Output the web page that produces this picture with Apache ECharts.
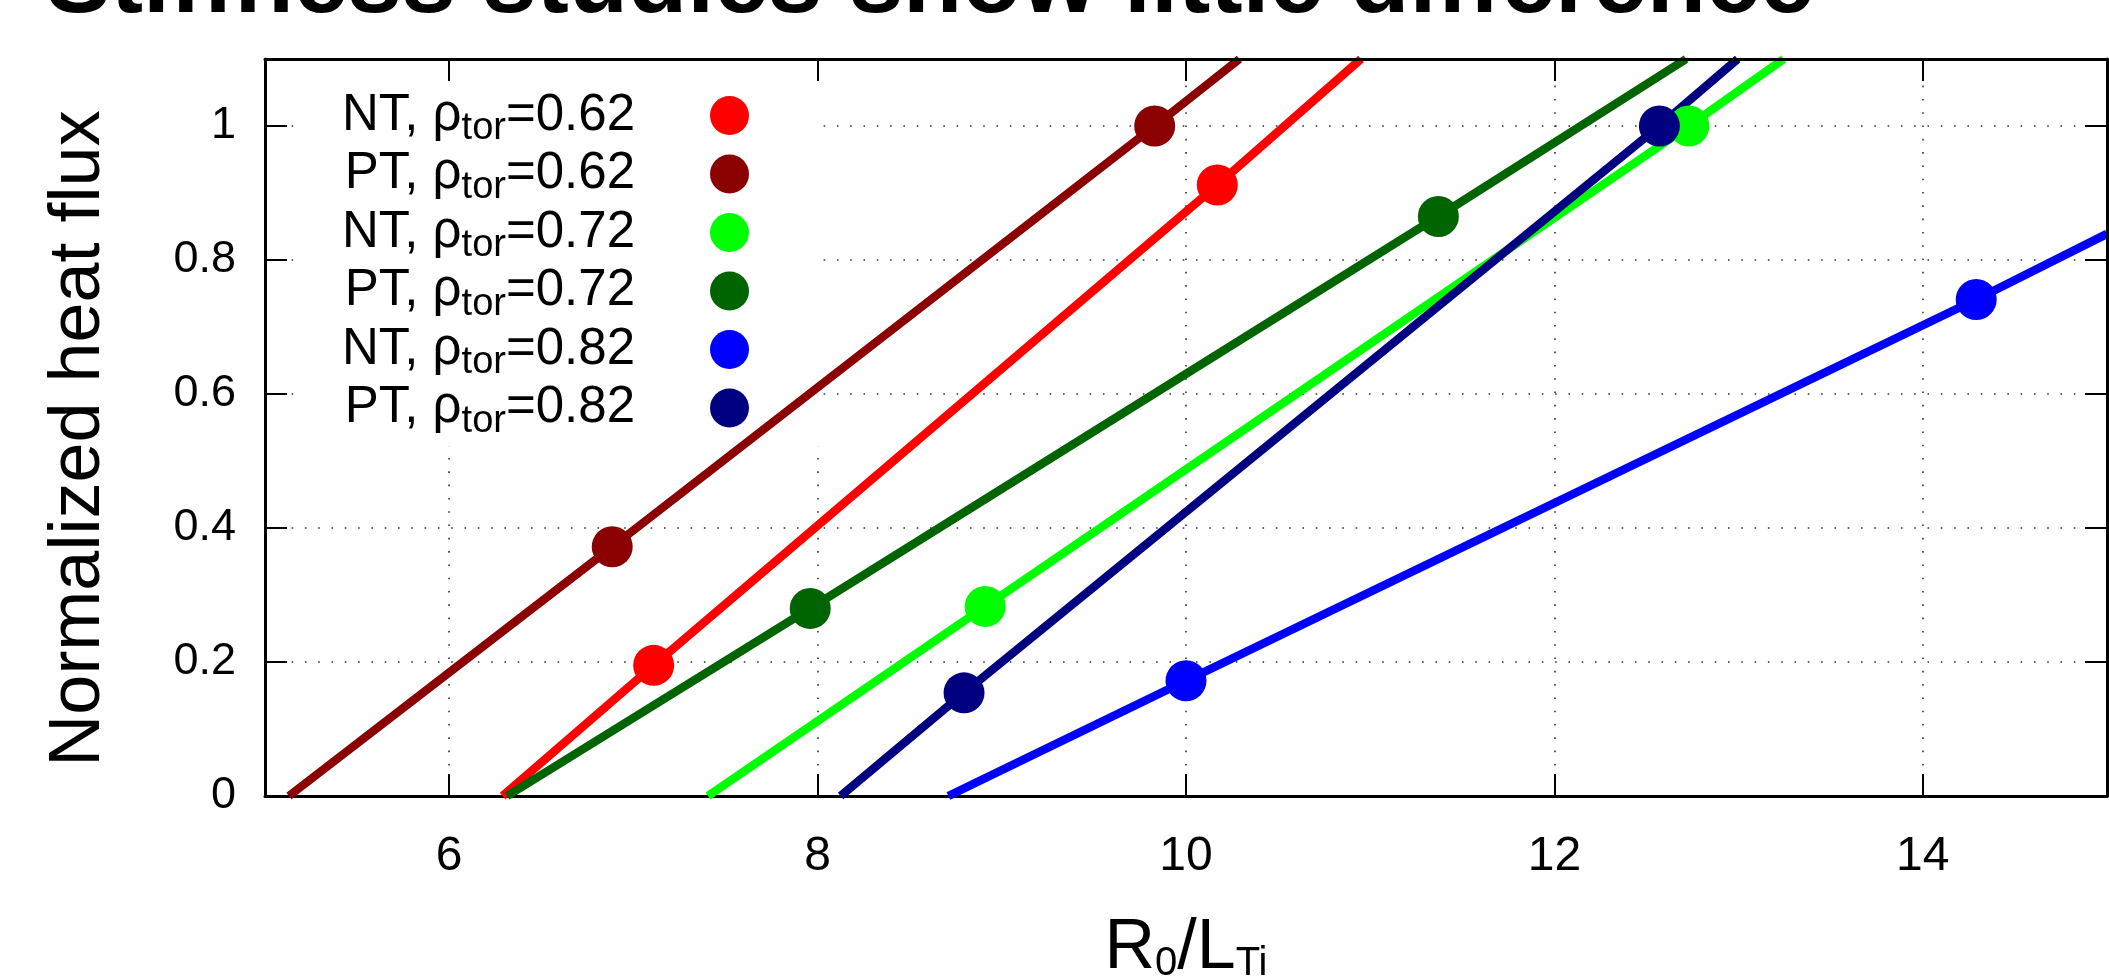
<!DOCTYPE html>
<html>
<head>
<meta charset="utf-8">
<script src="https://cdn.jsdelivr.net/npm/echarts@6/dist/echarts.min.js"></script>
<style>
  html, body { margin: 0; padding: 0; background: #fff; }
  #chart { width: 2109px; height: 977px; }
</style>
</head>
<body>
<div id="chart"></div>
<script>
// Heat flux vs. temperature gradient scans: simulated points and linear fits
const titleText = 'Stiffness studies show little difference';

const xTicks = [6, 8, 10, 12, 14];
const yTicks = [0, 0.2, 0.4, 0.6, 0.8, 1];

// legend pieces: triangularity and radial position
const shapes = ['NT', 'PT', 'NT', 'PT', 'NT', 'PT'];
const rhoTor = ['0.62', '0.62', '0.72', '0.72', '0.82', '0.82'];
const seriesColors = ['#ff0000', '#8b0000', '#00ff00', '#006400', '#0000ff', '#000080'];

// simulation points [R0/LTi, normalized heat flux]
const pointsNT062 = [[7.11, 0.195], [10.17, 0.912]];
const pointsPT062 = [[6.885, 0.372], [9.83, 1.0]];
const pointsNT072 = [[8.91, 0.283], [12.73, 1.0]];
const pointsPT072 = [[7.96, 0.280], [11.37, 0.865]];
const pointsNT082 = [[10.0, 0.172], [14.29, 0.741]];
const pointsPT082 = [[8.795, 0.154], [12.57, 1.0]];

// end points of each linear fit inside the frame
const fitNT062 = [[6.29, 0], [10.95, 1.1]];
const fitPT062 = [[5.13, 0], [10.29, 1.1]];
const fitNT072 = [[7.405, 0], [13.245, 1.1]];
const fitPT072 = [[6.315, 0], [12.715, 1.1]];
const fitNT082 = [[8.71, 0], [15, 0.839]];
const fitPT082 = [[8.125, 0], [12.995, 1.1]];

const pointSets = [pointsNT062, pointsPT062, pointsNT072, pointsPT072, pointsNT082, pointsPT082];
const fitSets = [fitNT062, fitPT062, fitNT072, fitPT072, fitNT082, fitPT082];

const FONT = '"Liberation Sans", Arial, Helvetica, sans-serif';
const seriesNames = shapes.map((s, i) => s + ', ρtor=' + rhoTor[i]);

const series = seriesNames.map((name, i) => {
  const fit = fitSets[i];
  const data = [
    { value: fit[0], symbol: 'none' },
    ...pointSets[i].map(p => ({ value: p })),
    { value: fit[1], symbol: 'none' }
  ];
  return {
    name: name,
    type: 'line',
    xAxisIndex: 0,
    yAxisIndex: 0,
    data: data,
    symbol: 'circle',
    symbolSize: 41,
    showSymbol: true,
    showAllSymbol: true,
    z: 2,
    itemStyle: { color: seriesColors[i] },
    lineStyle: { color: seriesColors[i], width: 8.5 },
    emphasis: { disabled: true },
    clip: true
  };
});

const gridDots = { color: '#333', width: 1.6, type: [1.6, 11.7] };
const frameLine = { show: true, onZero: false, lineStyle: { color: '#000', width: 3 } };
const tickStyle = { color: '#000', width: 2 };

const chart = echarts.init(document.getElementById('chart'), null, { renderer: 'canvas' });

chart.setOption({
  animation: false,
  backgroundColor: '#fff',
  textStyle: { fontFamily: FONT },
  grid: {
    left: 265, right: 2, top: 59, bottom: 181,
    containLabel: false,
    outerBoundsMode: 'none'
  },
  graphic: [{
    type: 'text',
    x: 46,
    y: -15,
    z: 10,
    style: {
      text: titleText,
      font: 'bold 97px ' + FONT,
      fill: '#000',
      align: 'left',
      verticalAlign: 'middle'
    }
  }],
  legend: {
    orient: 'vertical',
    right: 2109 - 820,
    top: 61,
    align: 'right',
    icon: 'circle',
    itemWidth: 39,
    itemHeight: 39,
    itemGap: 0.5,
    padding: [29, 71, 6, 30],
    backgroundColor: '#fff',
    z: 1,
    selectedMode: false,
    data: seriesNames,
    formatter: (name) => {
      const head = name.split(', ρtor=')[0];
      const val = name.split('=')[1];
      return '{pre|' + head + ', ρ}{sub|tor}{post|=' + val + '}';
    },
    textStyle: {
      color: '#000',
      fontFamily: FONT,
      fontSize: 51,
      rich: {
        pre: { fontSize: 51, fontFamily: FONT, color: '#000', width: 128, align: 'right', height: 40, lineHeight: 40 },
        sub: { fontSize: 38, fontFamily: FONT, color: '#000', height: 10, lineHeight: 40, padding: [27, 0, 0, 0] },
        post: { fontSize: 51, fontFamily: FONT, color: '#000', height: 40, lineHeight: 40, padding: [0, 70, 0, 0] }
      }
    }
  },
  xAxis: [{
    type: 'value',
    min: 5,
    max: 15,
    position: 'bottom',
    axisLine: frameLine,
    axisTick: { show: true, inside: true, length: 22, customValues: xTicks, lineStyle: tickStyle },
    axisLabel: {
      show: true, customValues: xTicks, margin: 37, color: '#000',
      fontSize: 48, fontFamily: FONT, formatter: (v) => String(v)
    },
    splitLine: { show: true, lineStyle: gridDots },
    name: '{m|R}{s|0}{m|/L}{s|Ti}',
    nameLocation: 'middle',
    nameGap: 118,
    nameTextStyle: {
      color: '#000',
      fontFamily: FONT,
      fontSize: 70,
      rich: {
        m: { fontSize: 70, fontFamily: FONT, color: '#000', height: 70, lineHeight: 70 },
        s: { fontSize: 40, fontFamily: FONT, color: '#000', height: 20, lineHeight: 70, padding: [29, 0, 0, 0] }
      }
    }
  }, {
    type: 'value',
    min: 5,
    max: 15,
    position: 'top',
    z: 3,
    axisLine: frameLine,
    axisTick: { show: true, inside: true, length: 22, customValues: xTicks, lineStyle: tickStyle },
    axisLabel: { show: false },
    splitLine: { show: false }
  }],
  yAxis: [{
    type: 'value',
    min: 0,
    max: 1.1,
    position: 'left',
    axisLine: frameLine,
    axisTick: { show: true, inside: true, length: 22, customValues: yTicks, lineStyle: tickStyle },
    axisLabel: {
      show: true, customValues: yTicks, margin: 29, color: '#000',
      fontSize: 45, fontFamily: FONT, formatter: (v) => String(v)
    },
    splitLine: { show: true, lineStyle: gridDots },
    name: 'Normalized heat flux',
    nameLocation: 'middle',
    nameGap: 150,
    nameTextStyle: { color: '#000', fontFamily: FONT, fontSize: 72, padding: [0, 22, 0, 0] }
  }, {
    type: 'value',
    min: 0,
    max: 1.1,
    position: 'right',
    z: 3,
    axisLine: frameLine,
    axisTick: { show: true, inside: true, length: 22, customValues: yTicks, lineStyle: tickStyle },
    axisLabel: { show: false },
    splitLine: { show: false }
  }],
  series: series
});
</script>
</body>
</html>
